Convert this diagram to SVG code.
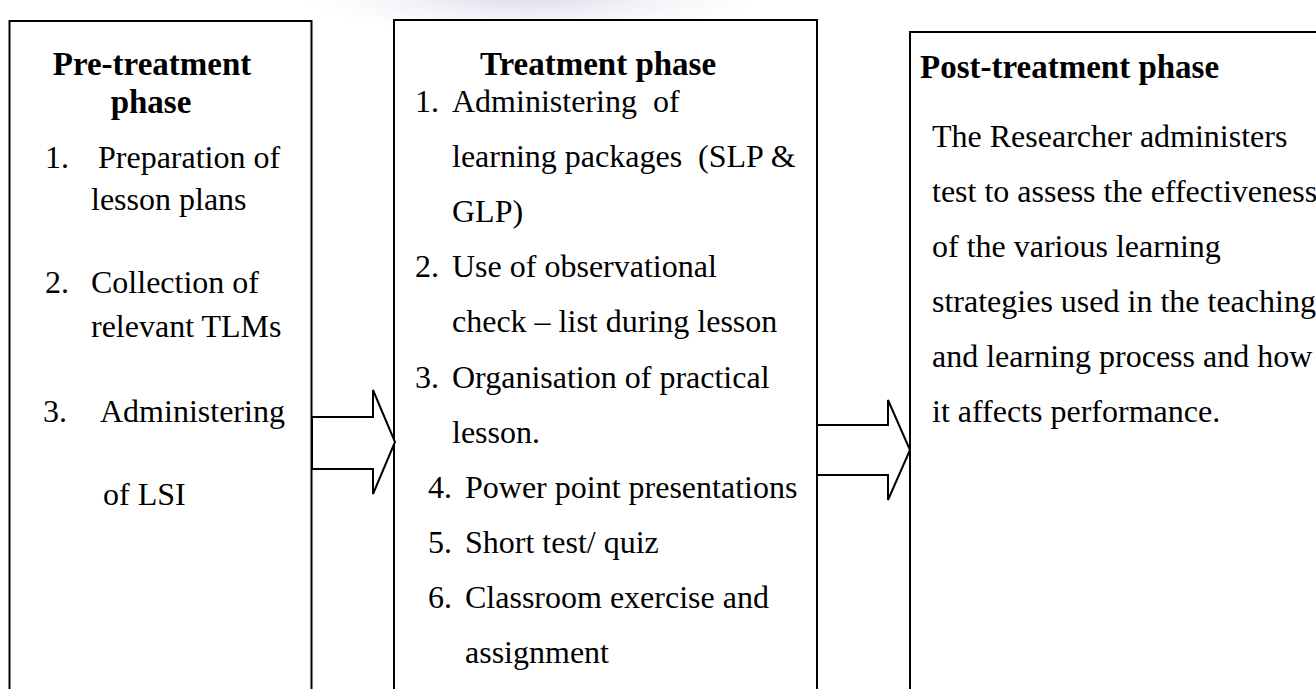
<svg xmlns="http://www.w3.org/2000/svg" width="1316" height="689" viewBox="0 0 1316 689">
<style>
.box{fill:#fff;stroke:#000;stroke-width:2}
.arr{fill:#fff;stroke:#000;stroke-width:2;stroke-linejoin:miter}
.h{font-family:"Liberation Serif","Times New Roman",serif;font-weight:bold;font-size:33px;fill:#000}
.t{font-family:"Liberation Serif","Times New Roman",serif;font-size:32px;fill:#000;white-space:pre}
</style>
<defs>
<radialGradient id="wm" cx="0.5" cy="0.3" r="0.5">
<stop offset="0" stop-color="#c9c9e2" stop-opacity="0.7"/>
<stop offset="1" stop-color="#e6e6f2" stop-opacity="0"/>
</radialGradient>
</defs>
<rect x="0" y="0" width="1316" height="689" fill="#fff"/>
<ellipse cx="530" cy="12" rx="230" ry="40" fill="url(#wm)"/>
<g id="pre-treatment">
<rect class="box" x="9.5" y="21" width="302" height="700"/>
<text class="h" x="152" y="75" text-anchor="middle">Pre-treatment</text>
<text class="h" x="151" y="113" text-anchor="middle">phase</text>
<text class="t" x="45" y="168">1.</text>
<text class="t" x="98" y="168">Preparation of</text>
<text class="t" x="91" y="210">lesson plans</text>
<text class="t" x="45" y="293">2.</text>
<text class="t" x="91" y="293">Collection of</text>
<text class="t" x="91" y="337">relevant TLMs</text>
<text class="t" x="43" y="422">3.</text>
<text class="t" x="100" y="422">Administering</text>
<text class="t" x="103" y="505">of LSI</text>
</g>
<g id="treatment">
<rect class="box" x="394" y="20" width="423" height="700"/>
<text class="h" x="598" y="75" text-anchor="middle">Treatment phase</text>
<text class="t" x="415" y="112">1.</text>
<text class="t" x="452" y="112">Administering  of</text>
<text class="t" x="452" y="167">learning packages  (SLP &amp;</text>
<text class="t" x="452" y="222">GLP)</text>
<text class="t" x="415" y="277">2.</text>
<text class="t" x="452" y="277">Use of observational</text>
<text class="t" x="452" y="332">check – list during lesson</text>
<text class="t" x="415" y="388">3.</text>
<text class="t" x="452" y="388">Organisation of practical</text>
<text class="t" x="452" y="443">lesson.</text>
<text class="t" x="428" y="498">4.</text>
<text class="t" x="465" y="498">Power point presentations</text>
<text class="t" x="428" y="553">5.</text>
<text class="t" x="465" y="553">Short test/ quiz</text>
<text class="t" x="428" y="608">6.</text>
<text class="t" x="465" y="608">Classroom exercise and</text>
<text class="t" x="465" y="663">assignment</text>
</g>
<g id="post-treatment">
<rect class="box" x="910" y="32" width="500" height="700"/>
<text class="h" x="920" y="78">Post-treatment phase</text>
<text class="t" x="932" y="147">The Researcher administers</text>
<text class="t" x="932" y="202">test to assess the effectiveness</text>
<text class="t" x="932" y="257">of the various learning</text>
<text class="t" x="932" y="312">strategies used in the teaching</text>
<text class="t" x="932" y="367">and learning process and how</text>
<text class="t" x="932" y="422">it affects performance.</text>
</g>
<g id="connectors">
<polygon class="arr" points="312,417 373,417 373,390 395,442 373,494 373,469 312,469"/>
<polygon class="arr" points="817,425 888,425 888,400 910,450 888,500 888,475 817,475"/>
</g>
</svg>
